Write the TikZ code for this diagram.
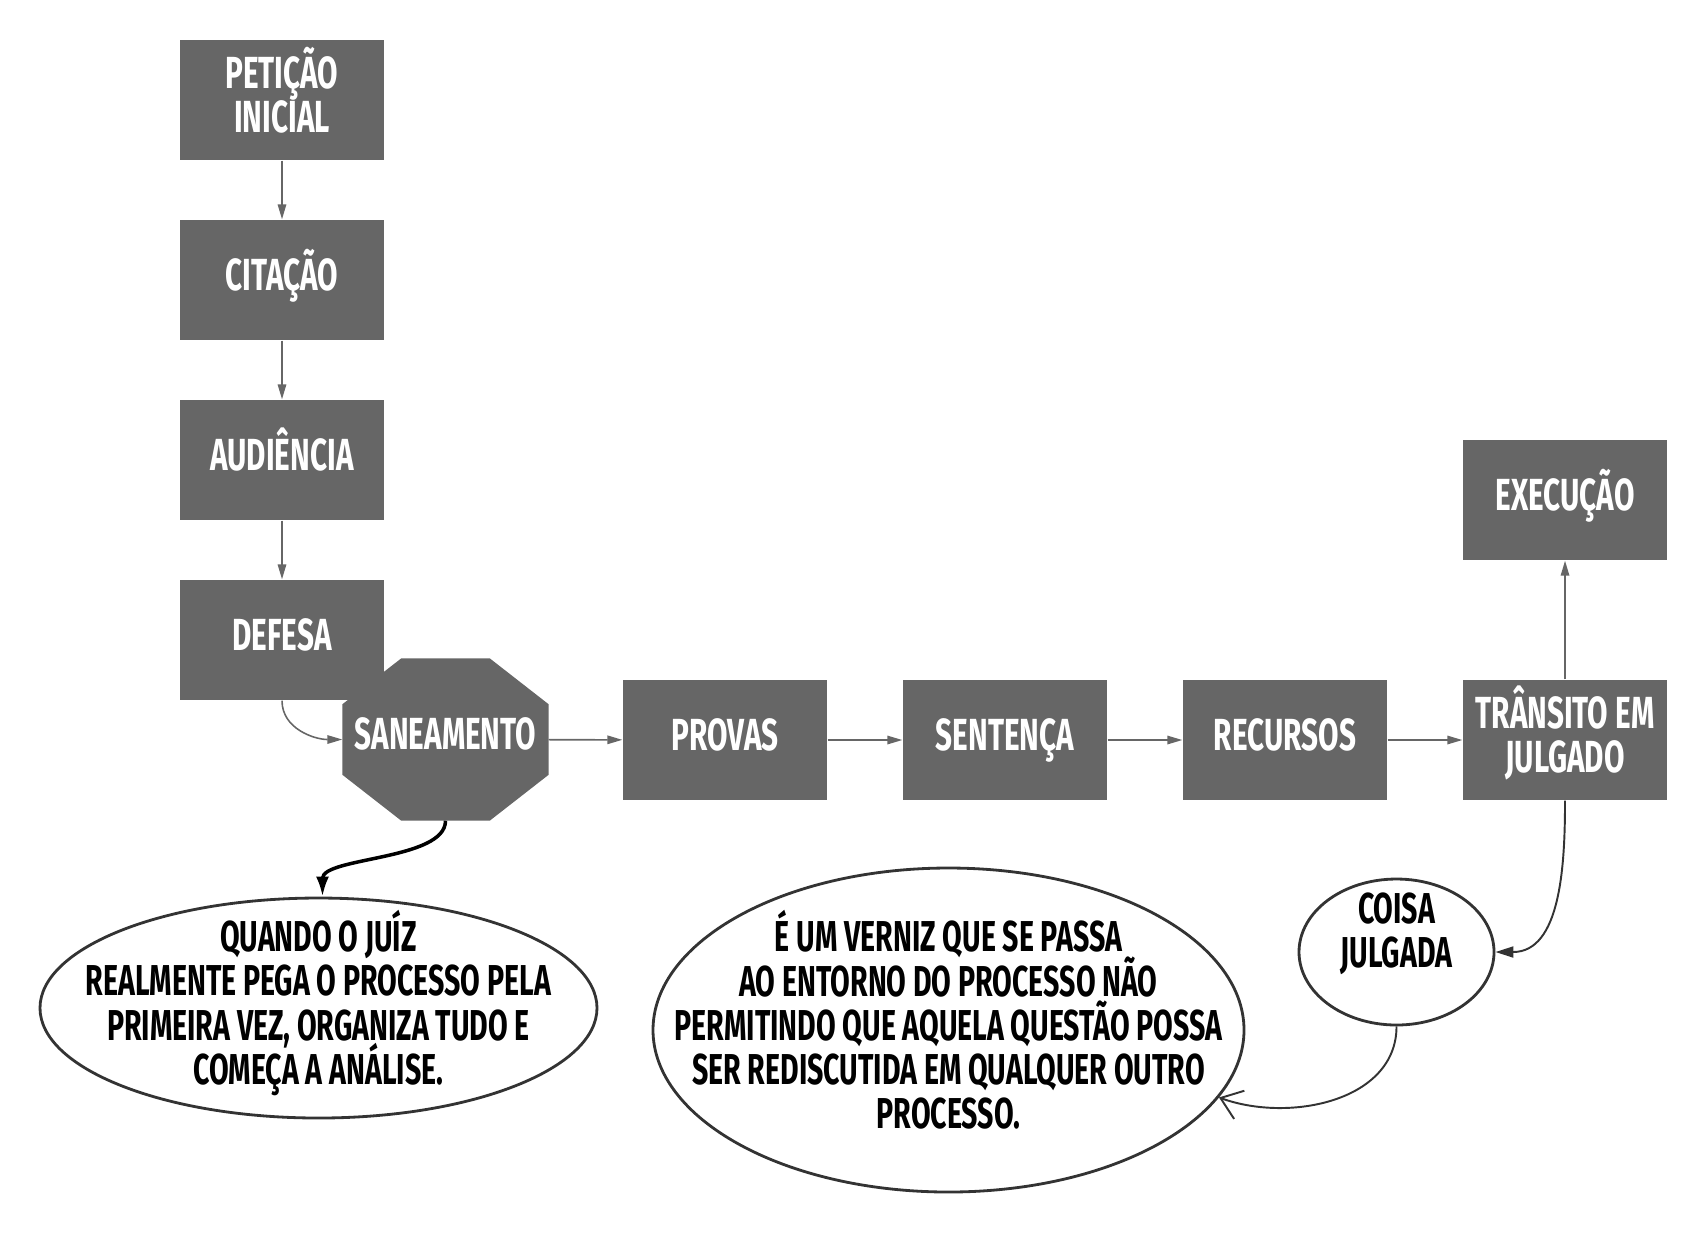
\documentclass[tikz,border=0pt]{standalone}
\usepackage{fontspec}
\setmainfont{Fira Sans}[FakeStretch=0.66]
\usetikzlibrary{arrows.meta,positioning,calc,shapes.geometric,backgrounds}
\definecolor{boxgray}{HTML}{666666}
\definecolor{linegray}{HTML}{666666}
\definecolor{darkline}{HTML}{333333}
\newcommand{\stagefont}{\fontsize{12.8}{12.5}\selectfont\bfseries\lineskiplimit=-20pt\relax}
\newcommand{\notefont}{\fontsize{12.3}{12.6}\selectfont\bfseries\lineskiplimit=-20pt\relax}
\tikzset{
  stage/.style={fill=boxgray, text=white, align=center, inner sep=0pt, minimum width=2.04cm, minimum height=1.2cm, text height=9pt, text depth=3.26pt, font=\stagefont},
  stagetwo/.style={stage, text height=21.5pt, text depth=3.26pt},
  octo/.style={text=white, align=center, inner sep=0pt, minimum width=2.05cm, minimum height=1.61cm, text height=9pt, text depth=3.26pt, font=\stagefont},
  note/.style={ellipse, draw=darkline, line width=0.8pt, fill=white, inner sep=0pt},
  notetext/.style={align=center, text=black, inner sep=0pt, font=\notefont},
  flow/.style={-{Triangle[length=1.5mm,width=0.85mm]}, draw=linegray, line width=0.45pt},
  link/.style={-{Latex[length=2mm,width=1.3mm]}, line width=1pt},
  darkflow/.style={-{Triangle[length=1.8mm,width=1.1mm]}, draw=darkline, line width=0.55pt},
  openflow/.style={-{Straight Barb[length=2mm,width=3mm]}, draw=darkline, line width=0.55pt}
}

\begin{document}
\begin{tikzpicture}
\useasboundingbox (0,0) rectangle (17.07,-12.32);
\node[stagetwo] (pet) at (2.82,-1.0) {PETIÇÃO\\INICIAL};
\node[stage] (cit) at (2.82,-2.8) {CITAÇÃO};
\node[stage] (aud) at (2.82,-4.6) {AUDIÊNCIA};
\node[stage] (def) at (2.82,-6.4) {DEFESA};
\node[octo] (san) at (4.455,-7.395) {SANEAMENTO};
\begin{scope}[on background layer]
\fill[boxgray] ($(san.north west)+(0.59,0)$) -- ($(san.north east)+(-0.59,0)$)
  -- ($(san.north east)+(0,-0.46)$) -- ($(san.south east)+(0,0.46)$)
  -- ($(san.south east)+(-0.59,0)$) -- ($(san.south west)+(0.59,0)$)
  -- ($(san.south west)+(0,0.46)$) -- ($(san.north west)+(0,-0.46)$) -- cycle;
\end{scope}
\node[stage] (prov) at (7.25,-7.4) {PROVAS};
\node[stage] (sent) at (10.05,-7.4) {SENTENÇA};
\node[stage] (rec) at (12.85,-7.4) {RECURSOS};
\node[stagetwo] (trans) at (15.65,-7.4) {TRÂNSITO EM\\JULGADO};
\node[stage] (exec) at (15.65,-5.0) {EXECUÇÃO};

\node[note, minimum width=5.57cm, minimum height=2.2cm] (quando) at (3.185,-10.08) {};
\node[notetext] (quandotxt) at (3.185,-10.03) {QUANDO O JUÍZ\\REALMENTE PEGA O PROCESSO PELA\\PRIMEIRA VEZ, ORGANIZA TUDO E\\COMEÇA A ANÁLISE.};
\node[note, minimum width=5.91cm, minimum height=3.24cm] (verniz) at (9.485,-10.3) {};
\node[notetext] (verniztxt) at (9.485,-10.2) {É UM VERNIZ QUE SE PASSA\\AO ENTORNO DO PROCESSO NÃO\\PERMITINDO QUE AQUELA QUESTÃO POSSA\\SER REDISCUTIDA EM QUALQUER OUTRO\\PROCESSO.};
\node[note, minimum width=1.95cm, minimum height=1.46cm] (coisa) at (13.965,-9.52) {};
\node[notetext] (coisatxt) at (13.965,-9.34) {COISA\\JULGADA};

\draw[flow] (pet) -- (cit);
\draw[flow] (cit) -- (aud);
\draw[flow] (aud) -- (def);
\draw[flow] (def.south) to[out=-90,in=180] (san.west);
\draw[flow] (san) -- (prov);
\draw[flow] (prov) -- (sent);
\draw[flow] (sent) -- (rec);
\draw[flow] (rec) -- (trans);
\draw[flow] (trans) -- (exec);
\draw[link] (san.south) to[out=-90,in=90,looseness=0.7] ([xshift=0.04cm]quando.north);
\draw[darkflow] (trans.south) to[out=-90,in=0] (coisa.east);
\draw[openflow] (coisa.south) to[out=-90,in=-20] (verniz.-14);
\end{tikzpicture}
\end{document}
